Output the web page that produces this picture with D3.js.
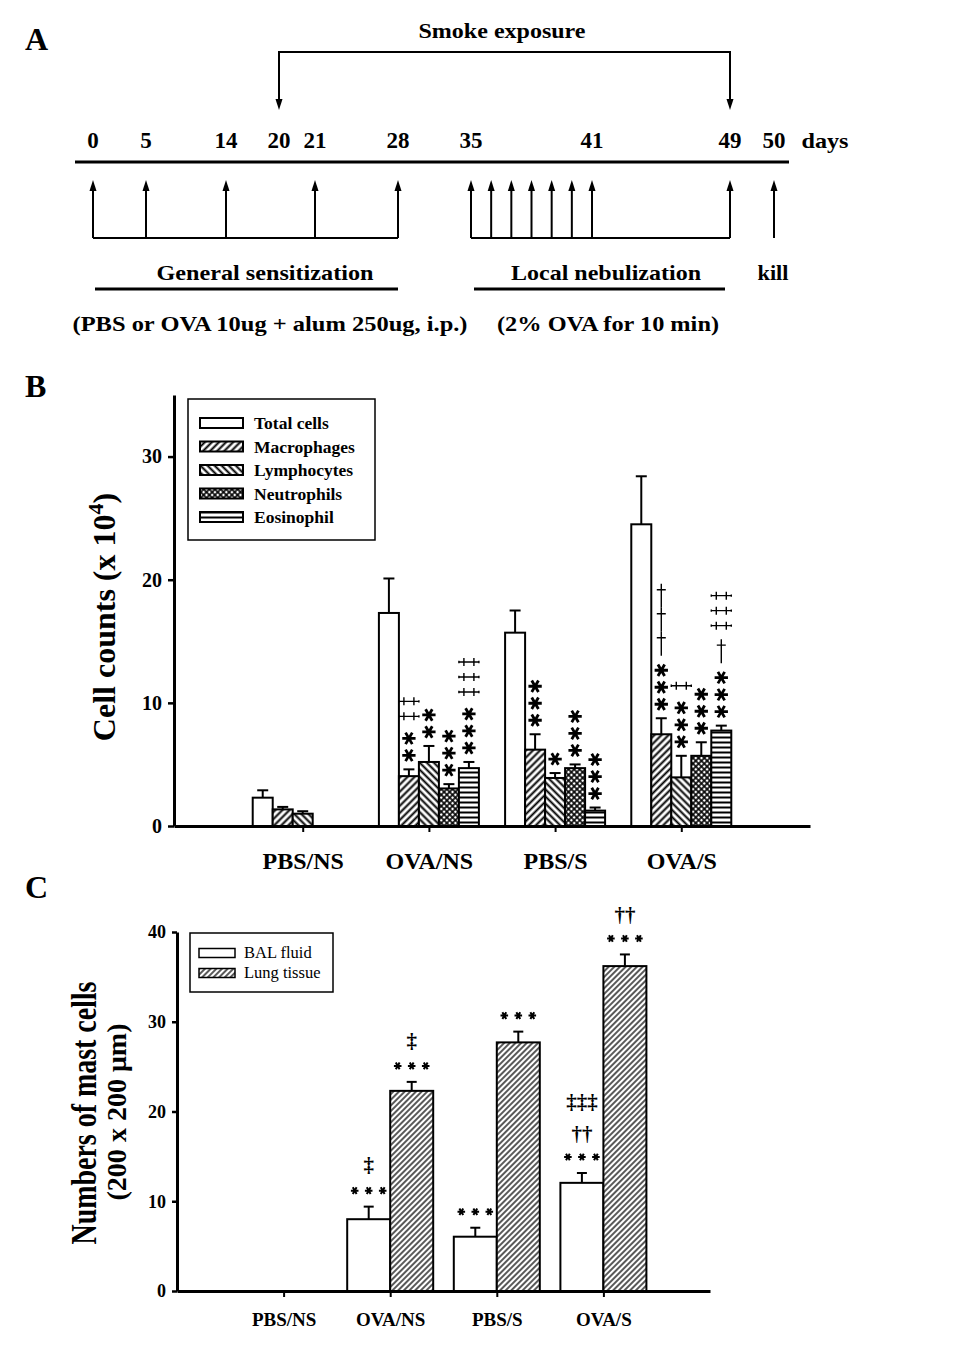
<!DOCTYPE html>
<html><head><meta charset="utf-8">
<script src="https://cdn.jsdelivr.net/npm/d3@7"></script>
<style>
body{margin:0;background:#fff}
svg{display:block}
text{font-family:"Liberation Serif","Times New Roman",serif;fill:#000}
</style>
</head><body>
<svg id="fig" width="976" height="1348"></svg>
<script>
// ================= DATA =================
// Panel A – protocol timeline
const timelineDays = [0, 5, 14, 20, 21, 28, 35, 41, 49, 50];
const sensitizationDays = [0, 5, 14, 21, 28];
const nebulizationDays = [35, 36, 37, 38, 39, 40, 41, 49];
const smokeDays = [20, 49];
const killDay = 50;
const smokeLabel = "Smoke exposure";
const phaseLabels = ["General sensitization", "Local nebulization", "kill"];
const phaseNotes = ["(PBS or OVA 10ug + alum 250ug, i.p.)", "(2% OVA for 10 min)"];

// Panel B – BAL cell counts (x 10^4)
const groups = ["PBS/NS", "OVA/NS", "PBS/S", "OVA/S"];
const cellTypes = ["Total cells", "Macrophages", "Lymphocytes", "Neutrophils", "Eosinophil"];
const totalCells = [2.3, 17.3, 15.7, 24.5];
const totalErr   = [0.6, 2.8, 1.8, 3.9];
const macrophages = [1.35, 4.05, 6.2, 7.45];
const macroErr    = [0.2, 0.55, 1.25, 1.3];
const lymphocytes = [1.0, 5.2, 3.9, 3.95];
const lymphErr    = [0.2, 1.3, 0.4, 1.75];
const neutrophils = [0, 3.05, 4.7, 5.7];
const neutroErr   = [0, 0.35, 0.3, 1.1];
const eosinophils = [0, 4.7, 1.25, 7.75];
const eosErr      = [0, 0.5, 0.25, 0.4];
const ticksB = [0, 10, 20, 30];
// significance marks, bottom to top, per group per cell type
const annotB = [
  [[], [], [], [], []],
  [[], ["✱","✱","‡","‡"], ["✱","✱"], ["✱","✱","✱"], ["✱","✱","✱","‡","‡","‡"]],
  [[], ["✱","✱","✱"], ["✱"], ["✱","✱","✱"], ["✱","✱","✱"]],
  [[], ["✱","✱","✱","†","†","†"], ["✱","✱","✱","‡"], ["✱","✱","✱"], ["✱","✱","✱","†","‡","‡","‡"]]
];

// Panel C – mast cells
const mastSeries = ["BAL fluid", "Lung tissue"];
const balFluid  = [0, 8.0, 6.05, 12.05];
const balErr    = [0, 1.4, 1.0, 1.1];
const lungTissue = [0, 22.3, 27.7, 36.2];
const lungErr    = [0, 1.0, 1.2, 1.3];
const ticksC = [0, 10, 20, 30, 40];
const annotC = [
  [[], []],
  [["***","‡"], ["***","‡"]],
  [["***"], ["***"]],
  [["***","††","‡‡‡"], ["***","††"]]
];

// ================= DRAWING =================
const svg = d3.select("#fig");
const defs = svg.append("defs");

function linePattern(id, size, angle, sw) {
  const p = defs.append("pattern").attr("id", id)
    .attr("patternUnits", "userSpaceOnUse")
    .attr("width", size).attr("height", size)
    .attr("patternTransform", `rotate(${angle})`);
  p.append("rect").attr("width", size).attr("height", size).attr("fill", "#fff");
  p.append("line").attr("x1", size/2).attr("x2", size/2).attr("y1", -1).attr("y2", size+1)
    .attr("stroke", "#000").attr("stroke-width", sw);
}
linePattern("pMacro", 5, 45, 2);
linePattern("pLymph", 5, -45, 2);
linePattern("pEos", 5, 90, 2);
linePattern("pLung", 4, 45, 1.3);
(function(){
  const s = 4;
  const p = defs.append("pattern").attr("id", "pNeutro")
    .attr("patternUnits", "userSpaceOnUse").attr("width", s).attr("height", s)
    .attr("patternTransform", "rotate(45)");
  p.append("rect").attr("width", s).attr("height", s).attr("fill", "#fff");
  p.append("line").attr("x1", s/2).attr("x2", s/2).attr("y1", -1).attr("y2", s+1).attr("stroke", "#000").attr("stroke-width", 1.6);
  p.append("line").attr("y1", s/2).attr("y2", s/2).attr("x1", -1).attr("x2", s+1).attr("stroke", "#000").attr("stroke-width", 1.6);
})();
const fillsB = ["#fff", "url(#pMacro)", "url(#pLymph)", "url(#pNeutro)", "url(#pEos)"];
const fillsC = ["#fff", "url(#pLung)"];

// Panel letters
[["A", 50], ["B", 397], ["C", 898]].forEach(([t, y]) => {
  svg.append("text").attr("x", 25).attr("y", y).attr("font-size", 32).attr("font-weight", "bold").text(t);
});

// ---------- Panel A ----------
const A = svg.append("g");
// schematic (non-uniform) day positions
const xDay = d3.scaleLinear().domain(timelineDays)
  .range([93, 146, 226, 279, 315, 398, 471, 592, 730, 774]);

function arrow(g, x, y0, y1) {
  const dir = y1 < y0 ? -1 : 1;
  g.append("line").attr("x1", x).attr("x2", x).attr("y1", y0).attr("y2", y1 - dir*8)
    .attr("stroke", "#000").attr("stroke-width", 2);
  g.append("path").attr("d", `M${x},${y1} L${x-3.5},${y1-dir*11} L${x+3.5},${y1-dir*11} Z`).attr("fill", "#000");
}
function txtA(str, x, y, w) {
  A.append("text").attr("x", x).attr("y", y).attr("text-anchor", "middle")
    .attr("font-size", 22).attr("font-weight", "bold")
    .attr("textLength", w).attr("lengthAdjust", "spacingAndGlyphs").text(str);
}
txtA(smokeLabel, 502, 38, 167);
A.append("path").attr("d", `M${xDay(smokeDays[0])},100 V52 H${xDay(smokeDays[1])} V100`)
  .attr("fill", "none").attr("stroke", "#000").attr("stroke-width", 2);
smokeDays.forEach(d => arrow(A, xDay(d), 60, 110));

timelineDays.forEach(d => {
  A.append("text").attr("x", xDay(d)).attr("y", 148).attr("text-anchor", "middle")
    .attr("font-size", 23).attr("font-weight", "bold").text(d);
});
txtA("days", 825, 148, 47);
A.append("line").attr("x1", 75).attr("x2", 789).attr("y1", 162).attr("y2", 162)
  .attr("stroke", "#000").attr("stroke-width", 3);

A.append("line").attr("x1", xDay(sensitizationDays[0])).attr("x2", xDay(d3.max(sensitizationDays)))
  .attr("y1", 238).attr("y2", 238).attr("stroke", "#000").attr("stroke-width", 2);
sensitizationDays.forEach(d => arrow(A, xDay(d), 238, 180));
A.append("line").attr("x1", xDay(nebulizationDays[0])).attr("x2", xDay(d3.max(nebulizationDays)))
  .attr("y1", 238).attr("y2", 238).attr("stroke", "#000").attr("stroke-width", 2);
nebulizationDays.forEach(d => arrow(A, xDay(d), 238, 180));
arrow(A, xDay(killDay), 238, 180);

txtA(phaseLabels[0], 265, 280, 217);
txtA(phaseLabels[1], 606, 280, 190);
txtA(phaseLabels[2], 773, 280, 31);
A.append("line").attr("x1", 95).attr("x2", 398).attr("y1", 289).attr("y2", 289).attr("stroke", "#000").attr("stroke-width", 3);
A.append("line").attr("x1", 474).attr("x2", 725).attr("y1", 289).attr("y2", 289).attr("stroke", "#000").attr("stroke-width", 3);
txtA(phaseNotes[0], 270, 331, 395);
txtA(phaseNotes[1], 608, 331, 222);

// ---------- Panel B ----------
const B = svg.append("g");
const xB = d3.scalePoint().domain(groups).range([174, 810]).padding(1.02);
const yB = d3.scaleLinear().domain([0, 35]).range([826, 395]);
const barW = 20;
const seriesB = [
  [totalCells, totalErr], [macrophages, macroErr], [lymphocytes, lymphErr],
  [neutrophils, neutroErr], [eosinophils, eosErr]
];

const ast = d3.symbol().type(d3.symbolAsterisk);
const rowH = {"✱": 17, "†": 24, "‡": 15};
// glyph outlines drawn as paths (double dagger lies on its side, as in the figure)
const dblDaggerSide = "M-10,0 H10 M-5,-4 V4 M5,-4 V4 M-10,-1.2 V1.2 M10,-1.2 V1.2";
const daggerUp = "M0,-12 V12 M-4.5,-6 H4.5 M0,-12 V-9";

function symB(s, cx, cy) {
  if (s === "✱") {
    B.append("path").attr("d", ast.size(125)())
      .attr("transform", `translate(${cx},${cy}) rotate(90)`)
      .attr("fill", "none").attr("stroke", "#000").attr("stroke-width", 2.8);
  } else if (s === "‡") {
    B.append("path").attr("d", dblDaggerSide).attr("transform", `translate(${cx},${cy})`)
      .attr("fill", "none").attr("stroke", "#000").attr("stroke-width", 1.4);
  } else {
    B.append("path").attr("d", daggerUp).attr("transform", `translate(${cx},${cy})`)
      .attr("fill", "none").attr("stroke", "#000").attr("stroke-width", 1.4);
  }
}

seriesB.forEach(([vals, errs], t) => {
  groups.forEach((g, i) => {
    const v = vals[i];
    if (v <= 0) return;
    const cx = xB(g) + (t - 2) * barW;
    B.append("rect").attr("x", cx - barW/2).attr("y", yB(v))
      .attr("width", barW).attr("height", yB(0) - yB(v))
      .attr("fill", fillsB[t]).attr("stroke", "#000").attr("stroke-width", 2);
    const ye = yB(v + errs[i]);
    B.append("line").attr("x1", cx).attr("x2", cx).attr("y1", yB(v)).attr("y2", ye)
      .attr("stroke", "#000").attr("stroke-width", 2);
    B.append("line").attr("x1", cx - 5.5).attr("x2", cx + 5.5).attr("y1", ye).attr("y2", ye)
      .attr("stroke", "#000").attr("stroke-width", 2);
    // annotations
    const rows = annotB[i][t];
    let y = ye - 14, prev = null;
    rows.forEach((s, k) => {
      if (k > 0) y -= (rowH[prev] + rowH[s]) / 2 + (prev !== s ? 6 : 0);
      symB(s, cx, y);
      prev = s;
    });
  });
});

const axBy = B.append("g").attr("transform", "translate(174,0)")
  .call(d3.axisLeft(yB).tickValues(ticksB).tickSize(6).tickSizeOuter(0).tickPadding(6));
axBy.select(".domain").attr("stroke-width", 3);
axBy.selectAll(".tick line").attr("stroke-width", 2.5);
axBy.selectAll(".tick text").attr("font-size", 20).attr("font-weight", "bold")
  .attr("font-family", "'Liberation Serif',serif");

const axBx = B.append("g").attr("transform", "translate(0,826)")
  .call(d3.axisBottom(xB).tickSize(6).tickSizeOuter(0).tickPadding(20));
axBx.select(".domain").attr("stroke-width", 3);
axBx.selectAll(".tick line").attr("stroke-width", 2);
axBx.selectAll(".tick text").attr("font-size", 24).attr("font-weight", "bold")
  .attr("font-family", "'Liberation Serif',serif");

const ylabB = B.append("text").attr("transform", "translate(115,617) rotate(-90)")
  .attr("text-anchor", "middle").attr("font-size", 32).attr("font-weight", "bold");
ylabB.append("tspan").text("Cell counts (x 10");
ylabB.append("tspan").attr("font-size", 22).attr("dy", -12).text("4");
ylabB.append("tspan").attr("dy", 12).text(")");

// Legend B
B.append("rect").attr("x", 188).attr("y", 399).attr("width", 187).attr("height", 141)
  .attr("fill", "#fff").attr("stroke", "#000").attr("stroke-width", 1.5);
cellTypes.forEach((c, k) => {
  const cy = 423 + k * 23.5;
  B.append("rect").attr("x", 200).attr("y", cy - 5).attr("width", 43).attr("height", 10)
    .attr("fill", fillsB[k]).attr("stroke", "#000").attr("stroke-width", 2);
  B.append("text").attr("x", 254).attr("y", cy + 6).attr("font-size", 17.5).attr("font-weight", "bold").text(c);
});

// ---------- Panel C ----------
const C = svg.append("g");
const xC = d3.scalePoint().domain(groups).range([177, 710]).padding(1);
const yC = d3.scaleLinear().domain([0, 40]).range([1291, 932]);
const barWC = 43;
const seriesC = [[balFluid, balErr], [lungTissue, lungErr]];

function symC(s, cx, cy) {
  if (s === "***") {
    [-14, 0, 14].forEach(dx => {
      C.append("path").attr("d", ast.size(40)())
        .attr("transform", `translate(${cx + dx},${cy}) rotate(90)`)
        .attr("fill", "none").attr("stroke", "#000").attr("stroke-width", 2);
    });
  } else {
    C.append("text").attr("x", cx).attr("y", cy + 0.27*21).attr("text-anchor", "middle")
      .attr("font-size", 21).attr("font-weight", "bold").text(s);
  }
}
const rowHC = {"***": 14, "††": 30, "‡": 34, "‡‡‡": 34};

seriesC.forEach(([vals, errs], t) => {
  groups.forEach((g, i) => {
    const v = vals[i];
    if (v <= 0) return;
    const x0 = t === 0 ? xC(g) - barWC : xC(g);
    const cx = x0 + barWC/2;
    C.append("rect").attr("x", x0).attr("y", yC(v)).attr("width", barWC).attr("height", yC(0) - yC(v))
      .attr("fill", fillsC[t]).attr("stroke", "#000").attr("stroke-width", 2);
    const ye = yC(v + errs[i]);
    C.append("line").attr("x1", cx).attr("x2", cx).attr("y1", yC(v)).attr("y2", ye)
      .attr("stroke", "#000").attr("stroke-width", 2);
    C.append("line").attr("x1", cx - 5).attr("x2", cx + 5).attr("y1", ye).attr("y2", ye)
      .attr("stroke", "#000").attr("stroke-width", 2);
    let y = ye - 16, prev = null;
    annotC[i][t].forEach((s, k) => {
      if (k > 0) y -= (rowHC[prev] + rowHC[s]) / 2;
      symC(s, cx, y);
      prev = s;
    });
  });
});

const axCy = C.append("g").attr("transform", "translate(177,0)")
  .call(d3.axisLeft(yC).tickValues(ticksC).tickSize(5).tickSizeOuter(0).tickPadding(6));
axCy.select(".domain").attr("stroke-width", 3);
axCy.selectAll(".tick line").attr("stroke-width", 2.5);
axCy.selectAll(".tick text").attr("font-size", 18).attr("font-weight", "bold")
  .attr("font-family", "'Liberation Serif',serif");

const axCx = C.append("g").attr("transform", "translate(0,1291)")
  .call(d3.axisBottom(xC).tickSize(6).tickSizeOuter(0).tickPadding(16));
axCx.select(".domain").attr("stroke-width", 3);
axCx.selectAll(".tick line").attr("stroke-width", 2);
axCx.selectAll(".tick text").attr("font-size", 19).attr("font-weight", "bold")
  .attr("font-family", "'Liberation Serif',serif");

C.append("text").attr("transform", "translate(96,1113) rotate(-90)")
  .attr("text-anchor", "middle").attr("font-size", 36).attr("font-weight", "bold")
  .attr("textLength", 263).attr("lengthAdjust", "spacingAndGlyphs").text("Numbers of mast cells");
C.append("text").attr("transform", "translate(126,1112) rotate(-90)")
  .attr("text-anchor", "middle").attr("font-size", 27).attr("font-weight", "bold")
  .attr("textLength", 177).attr("lengthAdjust", "spacingAndGlyphs").text("(200 x 200 μm)");

// Legend C
C.append("rect").attr("x", 190).attr("y", 933).attr("width", 143).attr("height", 59)
  .attr("fill", "#fff").attr("stroke", "#000").attr("stroke-width", 1.5);
mastSeries.forEach((s, k) => {
  const cy = 953 + k * 20;
  C.append("rect").attr("x", 199).attr("y", cy - 4.5).attr("width", 36).attr("height", 9)
    .attr("fill", fillsC[k]).attr("stroke", "#000").attr("stroke-width", 1.5);
  C.append("text").attr("x", 244).attr("y", cy + 5).attr("font-size", 16.5).text(s);
});
</script>
</body></html>
